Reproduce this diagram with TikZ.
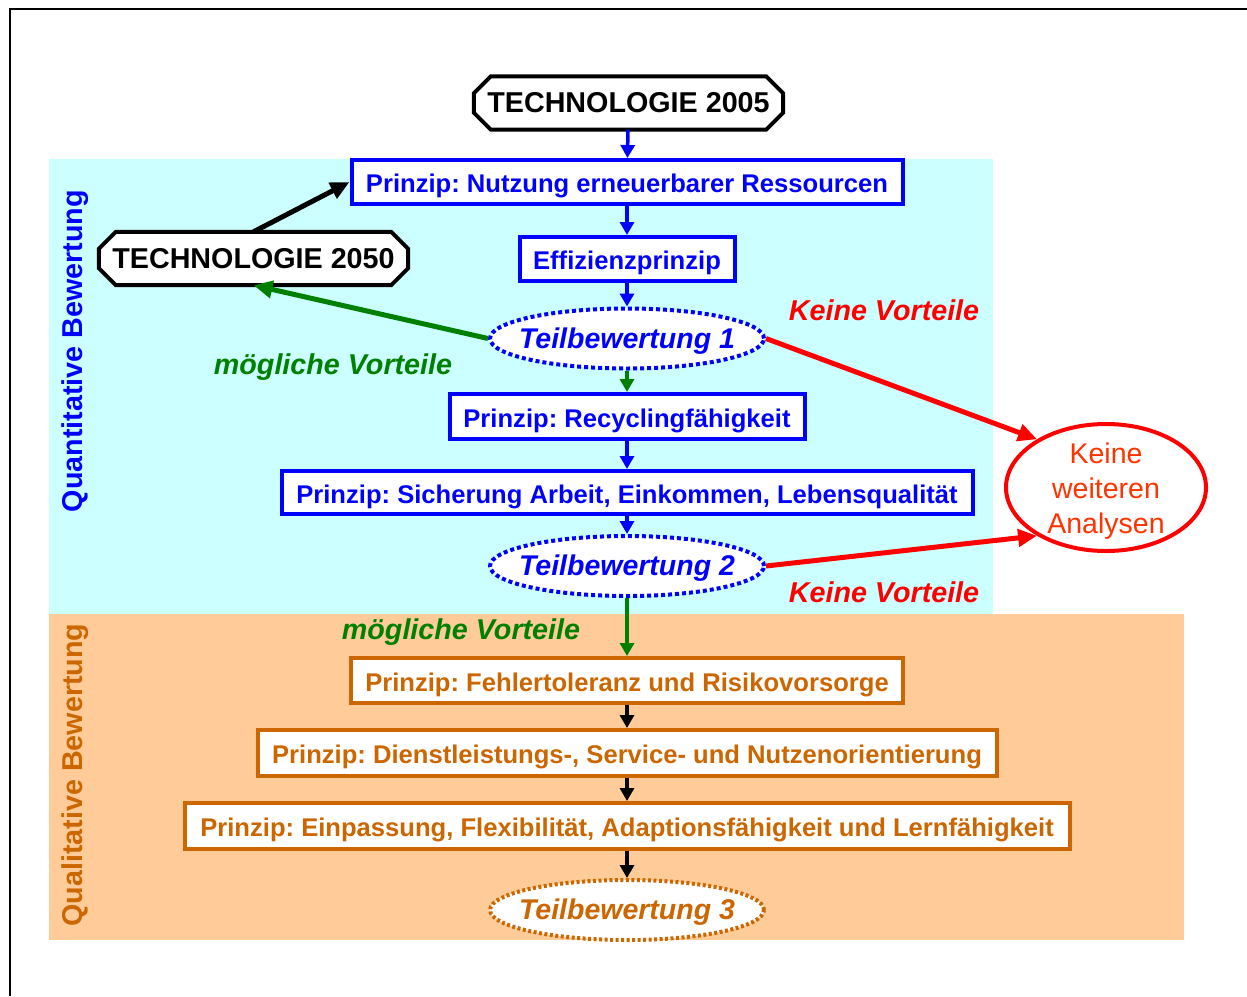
\documentclass[tikz,border=0pt]{standalone}
\usepackage{fontspec}
\setmainfont{Liberation Sans}
\frenchspacing
\usetikzlibrary{shapes.geometric,arrows.meta,backgrounds}
\definecolor{cyanbg}{RGB}{204,255,255}
\definecolor{orangebg}{RGB}{255,204,153}
\definecolor{qorange}{RGB}{204,102,0}
\definecolor{qgreen}{RGB}{0,128,0}
\definecolor{kwared}{RGB}{255,51,0}
\newcommand{\chamfpath}[1]{%
  \filldraw[fill=white,draw=black,line width=4pt,line join=miter]
    ([xshift=17pt]#1.north west) -- ([xshift=-17pt]#1.north east) --
    ([yshift=-17pt]#1.north east) -- ([yshift=17pt]#1.south east) --
    ([xshift=-17pt]#1.south east) -- ([xshift=17pt]#1.south west) --
    ([yshift=17pt]#1.south west) -- ([yshift=-17pt]#1.north west) -- cycle;}
\newcommand{\zw}[1]{\makebox[0pt]{#1}}
\begin{document}
\begin{tikzpicture}[x=1pt,y=-1pt,
  boxfont/.style={font=\fontsize{25.6}{30}\selectfont\bfseries,text height=23pt,text depth=2pt},
  bluebox/.style={boxfont,draw=blue,line width=4pt,fill=white,inner sep=0pt,text=blue},
  orbox/.style={boxfont,draw=qorange,line width=4pt,fill=white,inner sep=0pt,text=qorange},
  techbox/.style={inner sep=0pt,minimum width=309pt,minimum height=53pt,font=\fontsize{28.7}{34}\selectfont\bfseries},
  tbell/.style={ellipse,line width=4pt,dash pattern=on 4pt off 3pt,fill=white,inner sep=0pt,
     minimum width=274pt,minimum height=60pt,text height=23pt,text depth=4pt,
     font=\fontsize{28.5}{34}\selectfont\bfseries\itshape},
  varr/.style={line width=3.5pt,-{Triangle[length=13pt,width=14pt]}},
  bigarr/.style={line width=5pt,-{Triangle[length=19pt,width=17pt]}},
  lab/.style={font=\fontsize{28.7}{34}\selectfont\bfseries\itshape,inner sep=0pt,anchor=base},
  sidelab/.style={font=\fontsize{28.7}{34}\selectfont\bfseries,inner sep=0pt,rotate=90},
]
\useasboundingbox (0,0) rectangle (1247,996);
% frame
\draw[line width=2pt] (10,996) -- (10,9) -- (1247,9);

% side labels
\node[sidelab,text=blue] (qnt) at (75,351) {Quantitative Bewertung};
\node[sidelab,text=qorange] (qlt) at (75,775) {Qualitative Bewertung};

% technology boxes
\node[techbox] (t5) at (628.5,103) {TECHNOLOGIE 2005};
\node[techbox] (t50) at (253.5,258.5) {TECHNOLOGIE 2050};
\begin{scope}[on background layer]
  \fill[cyanbg] (49,159) rectangle (993,614);
  \fill[orangebg] (49,614) rectangle (1184,940);
  \chamfpath{t5}
  \chamfpath{t50}
\end{scope}

% principle boxes
\node[bluebox,minimum width=551pt,minimum height=44pt] (n1) at (627,182) {Prinzip: Nutzung erneuerbarer Ressourcen};
\node[bluebox,minimum width=215pt,minimum height=44pt] (eff) at (627,259) {Effizienzprinzip};
\node[tbell,draw=blue,text=blue] (tb1) at (627,338.5) {\zw{Teilbewertung 1}};
\node[bluebox,minimum width=355pt,minimum height=45pt] (rec) at (627,416.5) {Prinzip: Recyclingfähigkeit};
\node[bluebox,minimum width=691pt,minimum height=43pt] (sich) at (627,492.5) {Prinzip: Sicherung Arbeit, Einkommen, Lebensqualität};
\node[tbell,draw=blue,text=blue] (tb2) at (627,566) {\zw{Teilbewertung 2}};
\node[orbox,minimum width=552pt,minimum height=45pt] (fehl) at (627,680.5) {Prinzip: Fehlertoleranz und Risikovorsorge};
\node[orbox,minimum width=739pt,minimum height=46pt] (dienst) at (627,753) {Prinzip: Dienstleistungs-, Service- und Nutzenorientierung};
\node[orbox,minimum width=885pt,minimum height=46pt] (einp) at (627,826) {Prinzip: Einpassung, Flexibilität, Adaptionsfähigkeit und Lernfähigkeit};
\node[tbell,draw=qorange,text=qorange,dash pattern=on 3pt off 2.5pt] (tb3) at (627,910) {\zw{Teilbewertung 3}};

% end node
\node[ellipse,draw=red,line width=4pt,fill=white,inner xsep=0pt,inner ysep=-8pt,minimum width=200pt,minimum height=127pt,
      text height=98.5pt,text=kwared,align=center,font=\fontsize{28.5}{35}\selectfont] (kwa) at (1106,487.5) {Keine\\weiteren\\Analysen};

% labels
\node[lab,text=red] (kv1) at (884,320) {Keine Vorteile};
\node[lab,text=red] (kv2) at (884,602) {Keine Vorteile};
\node[lab,text=qgreen] (mv1) at (333,374) {mögliche Vorteile};
\node[lab,text=qgreen] (mv2) at (461,639) {mögliche Vorteile};

% vertical arrows
\draw[varr,blue] (t5) -- (n1);
\draw[varr,blue] (n1) -- (eff);
\draw[varr,blue] (eff) -- (tb1);
\draw[varr,qgreen] (tb1) -- (rec);
\draw[varr,blue] (rec) -- (sich);
\draw[varr,blue] (sich) -- (tb2);
\draw[varr,qgreen,line width=4pt] (tb2) -- (fehl);
\draw[varr,black] (fehl) -- (dienst);
\draw[varr,black] (dienst) -- (einp);
\draw[varr,black] (einp) -- (tb3);

% long arrows
\draw[bigarr,qgreen] (tb1.west) -- (t50.south);
\draw[bigarr,black] (t50.north) -- (n1.west);
\draw[bigarr,red] (tb1.east) -- (kwa.145);
\draw[bigarr,red] (tb2.east) -- (kwa.215);
\end{tikzpicture}
\end{document}
